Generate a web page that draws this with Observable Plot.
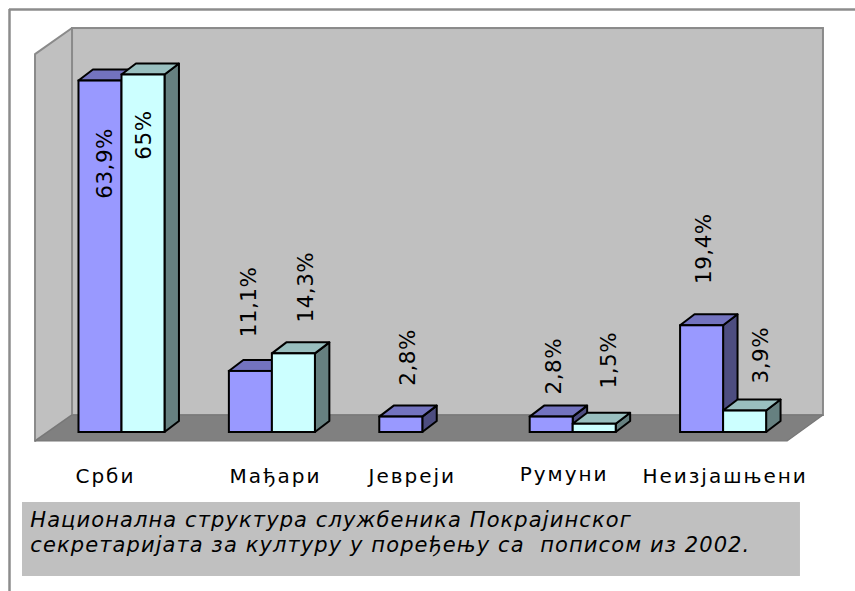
<!doctype html>
<html><head><meta charset="utf-8">
<style>
html,body{margin:0;padding:0;background:#fff}
svg{display:block}
g[aria-description="categories"] text{letter-spacing:2px}
g[aria-description="values"] text{letter-spacing:.5px}
g[aria-description="caption"] text{letter-spacing:1.1px}
</style>
<script src="https://cdn.jsdelivr.net/npm/d3@7"></script>
<script src="https://cdn.jsdelivr.net/npm/@observablehq/plot@0.6"></script>
</head><body><div id="c"></div>
<script>
const categories = ["Срби","Мађари","Јевреји","Румуни","Неизјашњени"];
const service = [63.9, 11.1, 2.8, 2.8, 19.4];
const census  = [65, 14.3, null, 1.5, 3.9];
const valueTexts = ["63,9%","65%","11,1%","14,3%","2,8%","2,8%","1,5%","19,4%","3,9%"];
const captionLines = ["Национална структура службеника Покрајинског","секретаријата за културу у поређењу са  пописом из 2002."];

// placement, in scale units
const catLabelX = [-0.11, 1.02, 1.93, 2.94, 4.01];
const valLabelX = [-0.11, 0.15, 0.847, 1.226, 1.905, 2.87, 3.24, 3.873, 4.25];
const valLabelY = [42.5, 49.6, 17.3, 20, 8.5, 6.9, 8, 27, 8.9];
const barW = 0.286, depthX = 0.096, depthY = 2;

const bars = (vals, s) => vals.map((v,i)=>v==null?null:{key:s+i, x1:i+(s?0:-barW), x2:i+(s?barW:0), v}).filter(Boolean);
const faces = (b, fillFront, fillTop, fillSide) => {
  const side = b.flatMap(d=>[
    {key:d.key,x:d.x2,y1:0,y2:d.v},
    {key:d.key,x:d.x2+depthX,y1:depthY,y2:d.v+depthY}]);
  const top = b.flatMap(d=>[
    {key:d.key,y:d.v,x1:d.x1,x2:d.x2},
    {key:d.key,y:d.v+depthY,x1:d.x1+depthX,x2:d.x2+depthX}]);
  const st = {stroke:"#000",strokeWidth:2,z:"key"};
  return [
    Plot.areaY(side,{x:"x",y1:"y1",y2:"y2",fill:fillSide,...st}),
    Plot.areaX(top,{y:"y",x1:"x1",x2:"x2",fill:fillTop,...st}),
    Plot.rect(b,{x1:"x1",x2:"x2",y1:0,y2:"v",fill:fillFront,stroke:"#000",strokeWidth:2})
  ];
};

const wall = {l:-0.329,r:4.664,fl:-0.575,fr:4.425,top:73.45,ftop:68.7,back:3.09,front:-1.64};
const valueRows = valueTexts.map((t,i)=>({t,x:valLabelX[i],y:valLabelY[i]}));
const catBaseY = [-9.2,-9.2,-9.2,-8.9,-9.1];

const plot = Plot.plot({
  width:855,height:591,margin:0,
  x:{axis:null,type:"linear",domain:[-121.5/150.4,(855-121.5)/150.4],range:[0,855]},
  y:{axis:null,type:"linear",domain:[(432-591)/5.5,432/5.5],range:[591,0]},
  style:{fontFamily:"'DejaVu Sans'",background:"#fff"},
  marks:[
    Plot.ruleY([76.9],{x1:-0.748,x2:4.88,stroke:"#8c8c8c",strokeWidth:2.5}),
    Plot.ruleX([-0.748],{y1:76.9,y2:-28.9,stroke:"#8c8c8c",strokeWidth:2.5}),
    Plot.rect([0],{x1:wall.l,x2:wall.r,y1:wall.back,y2:wall.top,fill:"#c0c0c0",stroke:"#8a8a8a",strokeWidth:2}),
    Plot.areaY([{x:wall.fl,a:wall.front,b:wall.ftop},{x:wall.l,a:wall.back,b:wall.top}],{x:"x",y1:"a",y2:"b",fill:"#c0c0c0",stroke:"#8a8a8a",strokeWidth:2}),
    Plot.areaX([{y:wall.front,a:wall.fl,b:wall.fr},{y:wall.back,a:wall.l,b:wall.r}],{y:"y",x1:"a",x2:"b",fill:"#808080",stroke:"#777",strokeWidth:1.2}),
    ...faces(bars(service,0),"#9999ff","#7373bf","#4d4d80"),
    ...faces(bars(census,1),"#ccffff","#99bfbf","#668080"),
    Plot.text(valueRows,{x:"x",y:"y",text:"t",rotate:-90,textAnchor:"start",lineAnchor:"middle",fontSize:21.5,fill:"#000",ariaDescription:"values"}),
    Plot.text(categories,{x:(d,i)=>catLabelX[i],y:(d,i)=>catBaseY[i],text:d=>d,textAnchor:"middle",lineAnchor:"bottom",fontSize:20,fill:"#000",ariaDescription:"categories"}),
    Plot.rect([0],{x1:-0.6616,x2:4.511,y1:-12.73,y2:-26.18,fill:"#c0c0c0"}),
    Plot.text(captionLines,{x:-0.61,y:(d,i)=>[-17.1,-21.8][i],text:d=>d,textAnchor:"start",lineAnchor:"bottom",fontSize:21,fontStyle:"italic",fill:"#000",ariaDescription:"caption"})
  ]
});
document.getElementById("c").append(plot);
</script></body></html>
